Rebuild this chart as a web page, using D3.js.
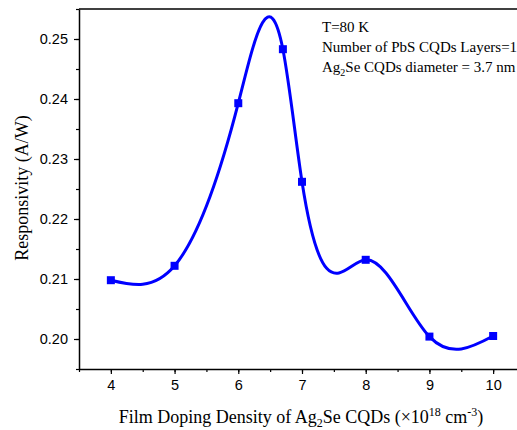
<!DOCTYPE html>
<html>
<head>
<meta charset="utf-8">
<script src="https://cdn.jsdelivr.net/npm/d3@7"></script>
<style>
  body { margin: 0; background: #fff; overflow: hidden; }
  svg { display: block; }
</style>
</head>
<body>
<div id="chart"></div>
<script>
// doping density (x10^18 cm^-3) and responsivity (A/W)
var density = [4, 5, 6, 6.7, 7, 8, 9, 10];
var responsivity = [0.2098, 0.2122, 0.2393, 0.2483, 0.2262, 0.2132, 0.2004, 0.2005];
var xTicks = [4, 5, 6, 7, 8, 9, 10];
var yTicks = [0.20, 0.21, 0.22, 0.23, 0.24, 0.25];
var notes = ["T=80 K", "Number of PbS CQDs Layers=1"];

var width = 517;
var height = 430;
var margin = {top: 9, right: -8, bottom: 61, left: 79};

var svg = d3.select("#chart")
    .append("svg")
    .attr("width", width)
    .attr("height", height);

var w = width - margin.left - margin.right;
var h = height - margin.top - margin.bottom;

var g = svg.append("g").attr("transform", "translate(" + margin.left + "," + margin.top + ")");

var x = d3.scaleLinear().domain([3.5, 10.5]).range([0, w]);
var y = d3.scaleLinear().domain([0.195, 0.255]).range([h, 0]);

// natural cubic spline y(x), drawn as bezier segments
function splineCurve(context) {
  var pts;
  return {
    areaStart: function() {}, areaEnd: function() {},
    lineStart: function() { pts = []; },
    point: function(px, py) { pts.push([px, py]); },
    lineEnd: function() {
      var n = pts.length - 1, i;
      var hs = [], M = new Array(n + 1).fill(0);
      for (i = 0; i < n; i++) hs.push(pts[i + 1][0] - pts[i][0]);
      // tridiagonal solve for second derivatives
      var a = [], b = [], c = [], d = [];
      for (i = 1; i < n; i++) {
        a.push(hs[i - 1]); b.push(2 * (hs[i - 1] + hs[i])); c.push(hs[i]);
        d.push(6 * ((pts[i + 1][1] - pts[i][1]) / hs[i] - (pts[i][1] - pts[i - 1][1]) / hs[i - 1]));
      }
      var m = b.length;
      for (i = 1; i < m; i++) {
        var k = a[i] / b[i - 1];
        b[i] -= k * c[i - 1];
        d[i] -= k * d[i - 1];
      }
      var sol = new Array(m);
      for (i = m - 1; i >= 0; i--) sol[i] = (d[i] - (i < m - 1 ? c[i] * sol[i + 1] : 0)) / b[i];
      for (i = 0; i < m; i++) M[i + 1] = sol[i];
      var slope = [];
      for (i = 0; i < n; i++) slope.push((pts[i + 1][1] - pts[i][1]) / hs[i] - hs[i] * (2 * M[i] + M[i + 1]) / 6);
      slope.push((pts[n][1] - pts[n - 1][1]) / hs[n - 1] + hs[n - 1] * (M[n - 1] + 2 * M[n]) / 6);
      context.moveTo(pts[0][0], pts[0][1]);
      for (i = 0; i < n; i++) {
        var t = hs[i] / 3;
        context.bezierCurveTo(pts[i][0] + t, pts[i][1] + slope[i] * t,
          pts[i + 1][0] - t, pts[i + 1][1] - slope[i + 1] * t,
          pts[i + 1][0], pts[i + 1][1]);
      }
    }
  };
}

var data = density.map(function(d, i) { return {x: d, y: responsivity[i]}; });

g.append("path")
    .datum(data)
    .attr("fill", "none")
    .attr("stroke", "#0000ff")
    .attr("stroke-width", 3)
    .attr("d", d3.line()
      .x(function(d) { return x(d.x); })
      .y(function(d) { return y(d.y); })
      .curve(splineCurve));

g.selectAll(".pt")
    .data(data)
    .enter().append("rect")
      .attr("class", "pt")
      .attr("x", function(d) { return x(d.x) - 4; })
      .attr("y", function(d) { return y(d.y) - 4; })
      .attr("width", 8)
      .attr("height", 8)
      .attr("fill", "#0000ff");

// frame top
g.append("line")
    .attr("x1", 0).attr("x2", w)
    .attr("y1", 0).attr("y2", 0)
    .attr("stroke", "#000").attr("stroke-width", 1.5);

// minor ticks
g.append("g")
    .attr("transform", "translate(0," + h + ")")
    .call(d3.axisBottom(x).tickValues(d3.range(3.5, 10.1, 0.5)).tickSize(3).tickFormat(""))
    .call(function(s) { s.select(".domain").remove(); s.selectAll("line").attr("stroke-width", 1.2); });
g.append("g")
    .call(d3.axisLeft(y).tickValues(d3.range(0.195, 0.2551, 0.005)).tickSize(3).tickFormat(""))
    .call(function(s) { s.select(".domain").remove(); s.selectAll("line").attr("stroke-width", 1.2); });

var xAxis = g.append("g")
    .attr("transform", "translate(0," + h + ")")
    .call(d3.axisBottom(x).tickValues(xTicks).tickSize(5).tickSizeOuter(0).tickPadding(6).tickFormat(d3.format("d")));
var yAxis = g.append("g")
    .call(d3.axisLeft(y).tickValues(yTicks).tickSize(5).tickSizeOuter(0).tickPadding(6).tickFormat(d3.format(".2f")));

[xAxis, yAxis].forEach(function(a) {
  a.select(".domain").attr("stroke-width", 1.5);
  a.selectAll("line").attr("stroke-width", 1.2);
  a.selectAll("text")
    .attr("fill", "#000")
    .style("font-family", "'Liberation Sans', Arial, sans-serif")
    .style("font-size", "14.5px");
});

// annotation
var serif = "'Liberation Serif', 'Times New Roman', serif";
var note = g.append("text")
    .attr("x", 243)
    .attr("y", 23)
    .style("font-family", serif)
    .style("font-size", "15px")
    .attr("fill", "#000");
note.append("tspan").attr("x", 243).attr("dy", 0).text(notes[0]);
note.append("tspan").attr("x", 243).attr("dy", 20).text(notes[1]);
note.append("tspan").attr("x", 243).attr("dy", 20).text("Ag");
note.append("tspan").attr("dy", 4).style("font-size", "10px").text("2");
note.append("tspan").attr("dy", -4).text("Se CQDs diameter = 3.7 nm");

// axis titles
svg.append("text")
    .attr("transform", "translate(28,188) rotate(-90)")
    .attr("text-anchor", "middle")
    .style("font-family", serif)
    .style("font-size", "18px")
    .text("Responsivity (A/W)");

var xt = svg.append("text")
    .attr("x", 301)
    .attr("y", 423)
    .attr("text-anchor", "middle")
    .style("font-family", serif)
    .style("font-size", "18px");
xt.append("tspan").text("Film Doping Density of Ag");
xt.append("tspan").attr("dy", 4).style("font-size", "12px").text("2");
xt.append("tspan").attr("dy", -4).text("Se CQDs (\u00d710");
xt.append("tspan").attr("dy", -7).style("font-size", "12px").text("18");
xt.append("tspan").attr("dy", 7).text(" cm");
xt.append("tspan").attr("dy", -7).style("font-size", "12px").text("-3");
xt.append("tspan").attr("dy", 7).text(")");
</script>
</body>
</html>
